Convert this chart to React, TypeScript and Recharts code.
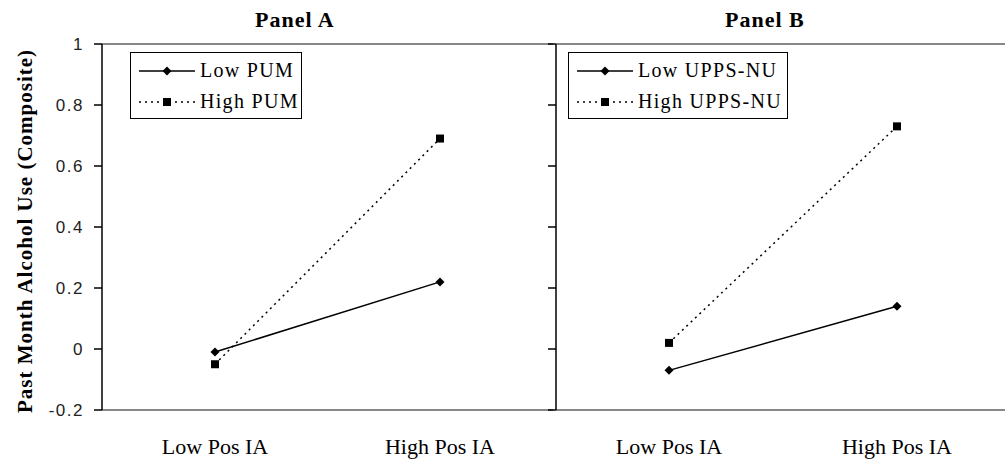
import { LineChart, Line, XAxis, YAxis, Legend, ReferenceLine } from "recharts";

const categories = ["Low Pos IA", "High Pos IA"];
const panelALow = [-0.01, 0.22];
const panelAHigh = [-0.05, 0.69];
const panelBLow = [-0.07, 0.14];
const panelBHigh = [0.02, 0.73];
const yTicks = [-0.2, 0, 0.2, 0.4, 0.6, 0.8, 1];

const serif = '"Liberation Serif"';
const sans = '"Liberation Sans"';

const build = (low: number[], high: number[]) =>
  categories.map((c, i) => ({ cond: c, low: low[i], high: high[i] }));

const dataA = build(panelALow, panelAHigh);
const dataB = build(panelBLow, panelBHigh);

const Diamond = (props: any) => {
  const { cx, cy, index } = props;
  if (cx == null || cy == null) return <g key={index} />;
  const r = 4.5;
  return (
    <path
      key={index}
      d={`M${cx},${cy - r} L${cx + r},${cy} L${cx},${cy + r} L${cx - r},${cy} Z`}
      fill="#000"
    />
  );
};

const Square = (props: any) => {
  const { cx, cy, index } = props;
  if (cx == null || cy == null) return <g key={index} />;
  return <rect key={index} x={cx - 4} y={cy - 4} width={8} height={8} fill="#000" />;
};

const CatTick = (props: any) => {
  const { x, y, payload } = props;
  return (
    <text x={x} y={y} dy={36} textAnchor="middle" style={{ fontFamily: serif, fontSize: 22 }} fill="#000">
      {payload.value}
    </text>
  );
};

const NumTick = (props: any) => {
  const { x, y, payload } = props;
  return (
    <text x={x} y={y} dy={6} textAnchor="end" style={{ fontFamily: sans, fontSize: 17 }} fill="#222" letterSpacing={1.5}>
      {String(payload.value)}
    </text>
  );
};

const NoTick = () => <g />;

const makeLegend = (width: number) => (props: any) => {
  const items = [...(props.payload || [])].sort((a: any, b: any) =>
    a.dataKey === "low" ? -1 : b.dataKey === "low" ? 1 : 0
  );
  return (
    <div
      style={{
        width,
        height: 67,
        border: "1.5px solid #000",
        background: "#fff",
        boxSizing: "border-box",
        paddingTop: 2,
      }}
    >
      {items.map((it: any) => {
        const dotted = it.dataKey === "high";
        return (
          <div key={it.dataKey} style={{ display: "flex", alignItems: "center", height: 31, paddingLeft: 8 }}>
            <svg width={56} height={12} style={{ display: "block" }}>
              <line x1={0} y1={6} x2={56} y2={6} stroke="#000" strokeWidth={1.5} strokeDasharray={dotted ? "2 4" : undefined} />
              {dotted ? (
                <rect x={24} y={2} width={8} height={8} fill="#000" />
              ) : (
                <path d="M28,1.5 L32.5,6 L28,10.5 L23.5,6 Z" fill="#000" />
              )}
            </svg>
            <span style={{ fontFamily: serif, fontSize: 20, marginLeft: 5, letterSpacing: 1.3, color: "#000" }}>
              {it.value}
            </span>
          </div>
        );
      })}
    </div>
  );
};

const YLabel = (props: any) => {
  const vb = props.viewBox || {};
  const cy = vb.y + vb.height / 2 + 4;
  return (
    <text
      x={32}
      y={cy}
      transform={`rotate(-90, 32, ${cy})`}
      textAnchor="middle"
      style={{ fontFamily: serif, fontSize: 21, fontWeight: "bold" }}
      letterSpacing={1}
      fill="#000"
    >
      Past Month Alcohol Use (Composite)
    </text>
  );
};

interface PanelProps {
  data: { cond: string; low: number; high: number }[];
  left: number;
  width: number;
  axisWidth: number;
  pad: number;
  showLabels: boolean;
  lowName: string;
  highName: string;
  legendLeft: number;
  legendWidth: number;
}

function Panel({ data, left, width, axisWidth, pad, showLabels, lowName, highName, legendLeft, legendWidth }: PanelProps) {
  return (
    <div style={{ position: "absolute", left, top: 0 }}>
      <LineChart width={width} height={464} data={data} margin={{ top: 44, right: 0, bottom: 0, left: 0 }}>
        <XAxis
          dataKey="cond"
          height={54}
          padding={{ left: pad, right: pad }}
          axisLine={{ stroke: "#888", strokeWidth: 2 }}
          tickLine={false}
          tick={<CatTick />}
          interval={0}
        />
        <YAxis
          type="number"
          domain={[-0.2, 1]}
          ticks={yTicks}
          width={axisWidth}
          tickSize={8}
          tickMargin={10}
          axisLine={{ stroke: "#000", strokeWidth: 1.5 }}
          tickLine={{ stroke: "#000", strokeWidth: 1.5 }}
          tick={showLabels ? <NumTick /> : <NoTick />}
          label={showLabels ? <YLabel /> : undefined}
          allowDataOverflow
        />
        <ReferenceLine y={1} stroke="#888" strokeWidth={2} />
        <Legend
          layout="vertical"
          align="center"
          verticalAlign="middle"
          content={makeLegend(legendWidth)}
          wrapperStyle={{ position: "absolute", left: legendLeft, top: 52, width: legendWidth }}
        />
        <Line
          type="linear"
          dataKey="low"
          name={lowName}
          stroke="#000"
          strokeWidth={1.5}
          dot={Diamond}
          activeDot={false}
          isAnimationActive={false}
        />
        <Line
          type="linear"
          dataKey="high"
          name={highName}
          stroke="#000"
          strokeWidth={1.5}
          strokeDasharray="2 4"
          dot={Square}
          activeDot={false}
          isAnimationActive={false}
        />
      </LineChart>
    </div>
  );
}

const titleStyle = (left: number): React.CSSProperties => ({
  position: "absolute",
  left,
  top: 7,
  fontFamily: serif,
  fontWeight: "bold",
  fontSize: 22,
  lineHeight: "26px",
  letterSpacing: 1,
  color: "#000",
  whiteSpace: "nowrap",
});

export default function App() {
  return (
    <div style={{ position: "absolute", left: 0, top: 0, width: 1005, height: 464, overflow: "hidden", background: "#fff" }}>
      <Panel
        data={dataA}
        left={0}
        width={553}
        axisWidth={102}
        pad={113}
        showLabels
        lowName="Low PUM"
        highName="High PUM"
        legendLeft={130}
        legendWidth={172}
      />
      <Panel
        data={dataB}
        left={500}
        width={510}
        axisWidth={56}
        pad={113}
        showLabels={false}
        lowName="Low UPPS-NU"
        highName="High UPPS-NU"
        legendLeft={68}
        legendWidth={220}
      />
      <div style={titleStyle(255)}>Panel A</div>
      <div style={titleStyle(725)}>Panel B</div>
    </div>
  );
}
